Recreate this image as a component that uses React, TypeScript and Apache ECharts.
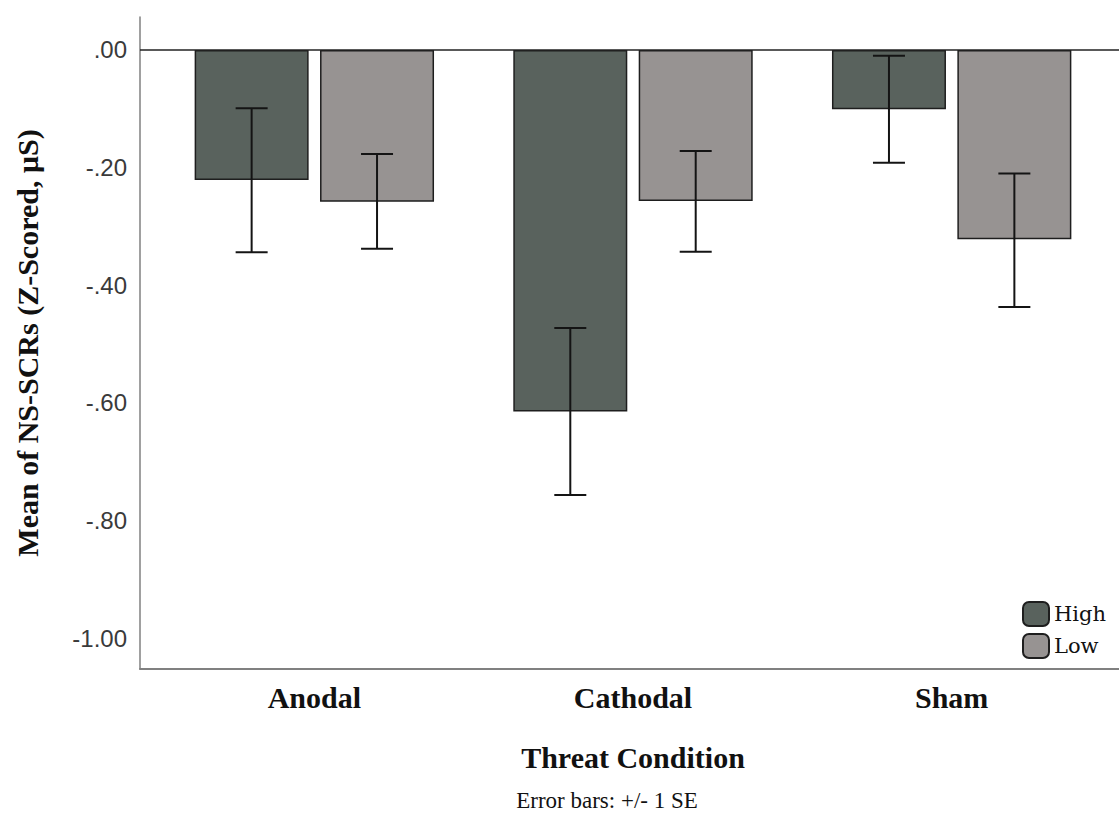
import React, { useEffect, useRef } from "react";
import * as echarts from "echarts";

const categories = ["Anodal", "Cathodal", "Sham"];
const seriesNames = ["High", "Low"];
const highMeans = [-0.221, -0.615, -0.101];
const lowMeans = [-0.258, -0.257, -0.322];
const highLower = [-0.344, -0.757, -0.192];
const highUpper = [-0.099, -0.473, -0.01];
const lowLower = [-0.338, -0.343, -0.437];
const lowUpper = [-0.177, -0.172, -0.21];
const yTicks = [0, -0.2, -0.4, -0.6, -0.8, -1.0];
const yMin = -1.0527;
const yMax = 0.056;

const HIGH_COLOR = "#59625d";
const LOW_COLOR = "#979392";
const BAR_WIDTH = 114;
const BAR_GAP = 0.1;
const SERIF = "'Liberation Serif', 'Times New Roman', serif";

function fmt(v: number): string {
  const a = Math.abs(v);
  let s = a.toFixed(2);
  if (a < 1) s = s.slice(1);
  return (v < -1e-9 ? "-" : "") + s;
}

function errorSeries(name: string, lower: number[], upper: number[], sign: number) {
  const offset = sign * (BAR_WIDTH * (1 + BAR_GAP)) / 2;
  return {
    type: "custom",
    name: name + " SE",
    xAxisIndex: 1,
    yAxisIndex: 1,
    z: 10,
    silent: true,
    encode: { x: 0, y: [1, 2] },
    data: categories.map((_, i) => [i, lower[i], upper[i]]),
    renderItem: (params: any, api: any) => {
      const idx = api.value(0);
      const pLo = api.coord([idx, api.value(1)]);
      const pHi = api.coord([idx, api.value(2)]);
      const x = pLo[0] + offset;
      const half = 16;
      const st = { stroke: "#141414", lineWidth: 2 };
      return {
        type: "group",
        children: [
          { type: "line", shape: { x1: x, y1: pHi[1], x2: x, y2: pLo[1] }, style: st },
          { type: "line", shape: { x1: x - half, y1: pHi[1], x2: x + half, y2: pHi[1] }, style: st },
          { type: "line", shape: { x1: x - half, y1: pLo[1], x2: x + half, y2: pLo[1] }, style: st },
        ],
      };
    },
  };
}

export default function App() {
  const ref = useRef<HTMLDivElement>(null);
  useEffect(() => {
    if (!ref.current) return;
    const chart = echarts.init(ref.current, undefined, { renderer: "svg" });
    const option: any = {
      animation: false,
      backgroundColor: "#ffffff",
      grid: [
        { left: 140, top: 17, width: 979, height: 652 },
        { left: 155, top: 17, width: 956, height: 652 },
      ],
      legend: {
        data: seriesNames,
        orient: "vertical",
        right: 13,
        top: 601,
        padding: 0,
        itemWidth: 26,
        itemHeight: 24,
        itemGap: 6,
        icon: "roundRect",
        textStyle: { fontFamily: "'DejaVu Serif', serif", fontSize: 21, color: "#111" },
      },
      xAxis: [
        {
          type: "value",
          gridIndex: 0,
          min: 0,
          max: 1,
          axisLine: { show: true, onZero: false, lineStyle: { color: "#808080", width: 2 } },
          axisTick: { show: false },
          axisLabel: { show: false },
          splitLine: { show: false },
        },
        {
          type: "category",
          gridIndex: 1,
          data: categories,
          axisLine: { show: false },
          axisTick: { show: false },
          axisLabel: {
            margin: 13,
            fontFamily: SERIF,
            fontWeight: "bold",
            fontSize: 30,
            color: "#111",
          },
          name: "Threat Condition",
          nameLocation: "middle",
          nameGap: 73,
          nameTextStyle: { fontFamily: SERIF, fontWeight: "bold", fontSize: 30, color: "#111" },
        },
      ],
      yAxis: [
        {
          type: "value",
          gridIndex: 0,
          min: yMin,
          max: yMax,
          axisLine: { show: true, onZero: false, lineStyle: { color: "#808080", width: 1.5 } },
          axisTick: { show: false },
          splitLine: { show: false },
          axisLabel: {
            customValues: yTicks,
            formatter: (v: number) => fmt(v),
            margin: 13,
            fontFamily: "'Liberation Sans', Arial, sans-serif",
            fontSize: 24,
            color: "#3a3a3a",
          },
          name: "Mean of NS-SCRs (Z-Scored, μS)",
          nameLocation: "middle",
          nameGap: 98,
          nameTextStyle: { fontFamily: SERIF, fontWeight: "bold", fontSize: 30, color: "#111" },
        },
        {
          type: "value",
          gridIndex: 1,
          min: yMin,
          max: yMax,
          show: false,
          splitLine: { show: false },
        },
      ],
      graphic: [
        {
          type: "text",
          x: 607,
          y: 800,
          style: {
            text: "Error bars: +/- 1 SE",
            font: "23px 'Liberation Serif', 'Times New Roman', serif",
            fill: "#111",
            textAlign: "center",
            textVerticalAlign: "middle",
          },
        },
      ],
      series: [
        {
          type: "line",
          name: "zero",
          xAxisIndex: 0,
          yAxisIndex: 0,
          data: [
            [0, 0],
            [1, 0],
          ],
          symbol: "none",
          silent: true,
          z: 8,
          lineStyle: { color: "#222", width: 1.5 },
        },
        {
          type: "bar",
          name: seriesNames[0],
          xAxisIndex: 1,
          yAxisIndex: 1,
          data: highMeans,
          barWidth: BAR_WIDTH,
          barGap: BAR_GAP * 100 + "%",
          itemStyle: { color: HIGH_COLOR, borderColor: "#1e1e1e", borderWidth: 1.5 },
        },
        {
          type: "bar",
          name: seriesNames[1],
          xAxisIndex: 1,
          yAxisIndex: 1,
          data: lowMeans,
          barWidth: BAR_WIDTH,
          barGap: BAR_GAP * 100 + "%",
          itemStyle: { color: LOW_COLOR, borderColor: "#1e1e1e", borderWidth: 1.5 },
        },
        errorSeries("High", highLower, highUpper, -1),
        errorSeries("Low", lowLower, lowUpper, 1),
      ],
    };
    chart.setOption(option);
    return () => chart.dispose();
  }, []);
  return (
    <div
      ref={ref}
      style={{ position: "fixed", left: 0, top: 0, width: 1119, height: 814, background: "#fff" }}
    />
  );
}
